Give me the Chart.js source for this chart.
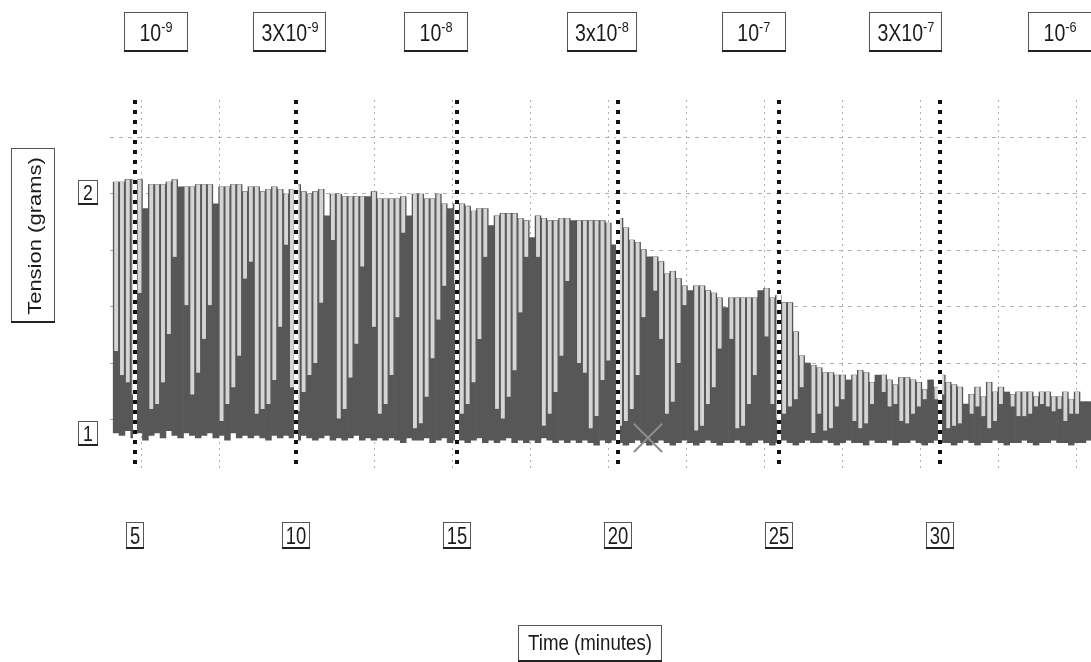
<!DOCTYPE html>
<html>
<head>
<meta charset="utf-8">
<script src="https://cdn.jsdelivr.net/npm/chart.js@4.4.0/dist/chart.umd.min.js"></script>
<style>
  html, body { margin: 0; padding: 0; background: #fff; overflow: hidden; }
  #trace { display: block; }
</style>
</head>
<body>
<canvas id="trace" width="1091" height="662"></canvas>
<script>
// Contraction record: each stroke peaks at `peak`, relaxes to `trough`,
// resting tone (bottom of the dark band) is `rest`. Tension in grams.
const SAMPLE_START = 4.41;  // minutes, first stroke in view
const SAMPLE_STEP = 0.182;  // minutes between strokes

const peak = [
  2.04, 2.04, 2.05, 2.05, 2.05, 1.93, 2.03, 2.03, 2.03, 2.04,
  2.05, 2.02, 2.02, 2.02, 2.03, 2.03, 2.03, 1.95, 2.02, 2.02,
  2.03, 2.03, 2.00, 2.02, 2.02, 2.00, 2.01, 2.02, 2.01, 1.99,
  2.01, 2.03, 2.00, 1.99, 2.00, 2.01, 1.90, 1.99, 1.99, 1.98,
  1.98, 1.98, 1.98, 1.98, 2.00, 1.97, 1.97, 1.97, 1.97, 1.98,
  1.90, 1.99, 1.99, 1.97, 1.97, 1.99, 1.95, 1.93, 1.95, 1.95,
  1.94, 1.92, 1.93, 1.93, 1.86, 1.90, 1.91, 1.91, 1.91, 1.89,
  1.88, 1.81, 1.90, 1.89, 1.88, 1.88, 1.89, 1.89, 1.88, 1.88,
  1.88, 1.88, 1.88, 1.88, 1.87, 1.78, 1.89, 1.85, 1.80, 1.79,
  1.76, 1.73, 1.73, 1.71, 1.66, 1.67, 1.64, 1.61, 1.59, 1.61,
  1.61, 1.59, 1.58, 1.56, 1.52, 1.56, 1.56, 1.56, 1.56, 1.56,
  1.59, 1.60, 1.56, 1.57, 1.54, 1.54, 1.42, 1.32, 1.29, 1.28,
  1.27, 1.25, 1.25, 1.24, 1.24, 1.22, 1.24, 1.26, 1.25, 1.21,
  1.24, 1.24, 1.22, 1.20, 1.23, 1.23, 1.22, 1.21, 1.18, 1.22,
  1.19, 1.24, 1.21, 1.20, 1.19, 1.12, 1.16, 1.19, 1.15, 1.21,
  1.17, 1.19, 1.17, 1.16, 1.17, 1.17, 1.17, 1.15, 1.17, 1.17,
  1.15, 1.15, 1.17, 1.14, 1.17, 1.13, 1.13
];

const trough = [
  1.34, 1.24, 1.21, 1.16, 1.58, 1.93, 1.10, 1.12, 1.21, 1.41,
  1.73, 2.02, 1.53, 1.16, 1.25, 1.39, 1.53, 1.95, 1.05, 1.12,
  1.19, 1.32, 1.64, 1.71, 1.08, 1.10, 1.12, 1.22, 1.44, 1.78,
  1.19, 1.09, 1.17, 1.24, 1.29, 1.54, 1.90, 1.80, 1.06, 1.10,
  1.23, 1.37, 1.69, 1.98, 1.44, 1.08, 1.12, 1.24, 1.48, 1.83,
  1.90, 1.02, 1.04, 1.15, 1.31, 1.47, 1.61, 1.93, 1.62, 1.08,
  1.12, 1.21, 1.39, 1.73, 1.86, 1.10, 1.06, 1.15, 1.26, 1.50,
  1.73, 1.81, 1.73, 1.03, 1.08, 1.17, 1.32, 1.63, 1.88, 1.29,
  1.25, 1.02, 1.07, 1.22, 1.30, 1.78, 1.03, 1.05, 1.10, 1.24,
  1.48, 1.73, 1.59, 1.39, 1.08, 1.13, 1.29, 1.53, 1.59, 1.01,
  1.03, 1.12, 1.19, 1.35, 1.52, 1.39, 1.02, 1.03, 1.12, 1.24,
  1.59, 1.40, 1.12, 1.06, 1.08, 1.11, 1.14, 1.19, 1.29, 1.00,
  1.08, 1.01, 1.02, 1.11, 1.14, 1.22, 1.05, 1.02, 1.04, 1.12,
  1.24, 1.17, 1.11, 1.12, 1.05, 1.04, 1.08, 1.11, 1.14, 1.22,
  1.14, 1.16, 1.02, 1.03, 1.04, 1.12, 1.08, 1.11, 1.07, 1.02,
  1.05, 1.12, 1.17, 1.11, 1.07, 1.07, 1.08, 1.11, 1.12, 1.11,
  1.09, 1.10, 1.05, 1.08, 1.08, 1.13, 1.13
];

const rest = [
  1.00, 0.99, 1.01, 0.98, 1.00, 0.97, 0.99, 1.00, 0.98, 1.01,
  0.99, 0.98, 1.00, 0.99, 0.98, 0.99, 1.00, 0.98, 0.99, 0.97,
  1.00, 0.98, 0.99, 0.98, 0.99, 0.98, 0.97, 0.99, 0.98, 0.99,
  0.98, 0.97, 0.99, 0.98, 0.97, 0.98, 0.99, 0.97, 0.98, 0.97,
  0.98, 0.99, 0.97, 0.98, 0.97, 0.98, 0.97, 0.98, 0.97, 0.96,
  0.98, 0.97, 0.97, 0.98, 0.96, 0.97, 0.98, 0.96, 0.97, 0.97,
  0.96, 0.97, 0.98, 0.96, 0.97, 0.96, 0.97, 0.98, 0.96, 0.97,
  0.96, 0.97, 0.96, 0.98, 0.97, 0.96, 0.97, 0.96, 0.97, 0.96,
  0.97, 0.96, 0.95, 0.97, 0.96, 0.97, 0.96, 0.95, 0.96, 0.97,
  0.96, 0.95, 0.96, 0.97, 0.96, 0.95, 0.96, 0.97, 0.96, 0.95,
  0.96, 0.97, 0.96, 0.95, 0.96, 0.96, 0.97, 0.96, 0.95, 0.96,
  0.97, 0.96, 0.95, 0.96, 0.97, 0.96, 0.95, 0.96, 0.97, 0.96,
  0.96, 0.97, 0.96, 0.95, 0.96, 0.97, 0.96, 0.96, 0.95, 0.97,
  0.96, 0.96, 0.97, 0.95, 0.96, 0.96, 0.97, 0.96, 0.95, 0.96,
  0.97, 0.96, 0.96, 0.95, 0.96, 0.97, 0.96, 0.95, 0.96, 0.96,
  0.97, 0.96, 0.95, 0.96, 0.96, 0.97, 0.96, 0.95, 0.96, 0.96,
  0.97, 0.96, 0.96, 0.95, 0.96, 0.96, 0.97
];

const timeTicks = [5, 10, 15, 20, 25, 30];
const tensionTicks = [1, 2];
const additionTimes = [5, 10, 15, 20, 25, 30];
const doseTimes = [5.65, 9.81, 14.35, 19.5, 24.22, 28.94, 33.73];
const doseBase = ['10', '3X10', '10', '3x10', '10', '3X10', '10'];
const doseExp = ['-9', '-9', '-8', '-8', '-7', '-7', '-6'];
const markTime = [20.93];
const markTension = [0.98];

const times = peak.map((_, i) => SAMPLE_START + i * SAMPLE_STEP);

const FONT = "'Liberation Sans', Arial, sans-serif";

function labelBox(ctx, l, t, w, h) {
  ctx.fillStyle = '#fff';
  ctx.fillRect(l, t, w, h);
  ctx.strokeStyle = '#555';
  ctx.lineWidth = 1;
  ctx.strokeRect(l + 0.5, t + 0.5, w - 1, h - 1);
  ctx.fillStyle = '#222';
  ctx.fillRect(l, t + h - 2, w, 2);
}

function textWidth(ctx, txt, size, sx) {
  ctx.font = size + 'px ' + FONT;
  return ctx.measureText(txt).width * sx;
}

function narrowText(ctx, txt, x, y, size, sx) {
  ctx.save();
  ctx.translate(x, y);
  ctx.scale(sx, 1);
  ctx.font = size + 'px ' + FONT;
  ctx.fillStyle = '#1a1a1a';
  ctx.textAlign = 'left';
  ctx.textBaseline = 'alphabetic';
  ctx.fillText(txt, 0, 0);
  ctx.restore();
}

const tracePlugin = {
  id: 'tracePlugin',
  afterDatasetsDraw(chart) {
    const { ctx, chartArea: area, scales: { x } } = chart;
    additionTimes.forEach(t => {
      const px = Math.round(x.getPixelForValue(t));
      ctx.save();
      ctx.lineWidth = 4;
      ctx.strokeStyle = '#fff';
      ctx.beginPath();
      ctx.moveTo(px, area.top);
      ctx.lineTo(px, area.bottom);
      ctx.stroke();
      ctx.strokeStyle = '#111';
      ctx.setLineDash([4, 6]);
      ctx.beginPath();
      ctx.moveTo(px, area.top);
      ctx.lineTo(px, area.bottom);
      ctx.stroke();
      ctx.restore();
    });
  },
  afterDraw(chart) {
    const { ctx, scales: { x, y } } = chart;

    // concentration added
    doseTimes.forEach((t, i) => {
      const wb = textWidth(ctx, doseBase[i], 23, 0.85);
      const we = textWidth(ctx, doseExp[i], 15, 0.85);
      const w = Math.round(Math.max(64, wb + we + 16));
      const cx = x.getPixelForValue(t);
      const l = Math.round(cx - w / 2);
      labelBox(ctx, l, 12, w, 40);
      const tx = cx - (wb + we) / 2;
      narrowText(ctx, doseBase[i], tx, 41, 23, 0.85);
      narrowText(ctx, doseExp[i], tx + wb, 32, 15, 0.85);
    });

    // time ticks
    timeTicks.forEach(t => {
      const label = String(t);
      const tw = textWidth(ctx, label, 23, 0.8);
      const w = Math.round(tw + 8);
      const cx = x.getPixelForValue(t);
      labelBox(ctx, Math.round(cx - w / 2), 522, w, 27);
      narrowText(ctx, label, cx - tw / 2, 544, 23, 0.8);
    });

    // tension ticks
    tensionTicks.forEach(v => {
      const label = String(v);
      const tw = textWidth(ctx, label, 22, 0.8);
      const cy = y.getPixelForValue(v);
      labelBox(ctx, 78, Math.round(cy - 12), 20, 25);
      narrowText(ctx, label, 88 - tw / 2, cy + 8, 22, 0.8);
    });

    // axis titles
    const xt = 'Time (minutes)';
    const xw = textWidth(ctx, xt, 22, 0.85);
    labelBox(ctx, 518, 625, 144, 37);
    narrowText(ctx, xt, 590 - xw / 2, 650, 22, 0.85);

    const yt = 'Tension (grams)';
    ctx.font = '22px ' + FONT;
    const yw = ctx.measureText(yt).width;
    labelBox(ctx, 11, 148, 44, 175);
    ctx.save();
    ctx.translate(41, 236);
    ctx.scale(0.85, 1);
    ctx.rotate(-Math.PI / 2);
    ctx.font = '22px ' + FONT;
    ctx.fillStyle = '#1a1a1a';
    ctx.fillText(yt, -yw / 2, 0);
    ctx.restore();
  }
};

new Chart(document.getElementById('trace'), {
  type: 'bar',
  data: {
    datasets: [
      {
        label: 'Relaxation',
        data: times.map((t, i) => ({ x: t, y: [trough[i], peak[i]] })),
        backgroundColor: '#d5d5d5',
        borderWidth: 0,
        barPercentage: 0.66,
        categoryPercentage: 1,
        grouped: false,
        order: 1
      },
      {
        label: 'Tone',
        data: times.map((t, i) => ({ x: t, y: [rest[i], peak[i]] })),
        backgroundColor: '#575757',
        borderWidth: 0,
        barPercentage: 1,
        categoryPercentage: 1,
        grouped: false,
        order: 2
      },
      {
        type: 'scatter',
        label: 'Mark',
        data: markTime.map((t, i) => ({ x: t, y: markTension[i] })),
        pointStyle: 'crossRot',
        pointRadius: 20,
        borderColor: '#8c8c8c',
        borderWidth: 2,
        order: 0
      }
    ]
  },
  options: {
    responsive: false,
    animation: false,
    layout: { autoPadding: false, padding: { left: 110, right: 0, top: 100, bottom: 194 } },
    plugins: { legend: { display: false }, tooltip: { enabled: false } },
    scales: {
      x: { type: 'linear', display: false, offset: false, min: 4.22, max: 34.69 },
      y: { display: false, min: 0.855, max: 2.38 },
      gx: {
        type: 'linear', position: 'bottom', offset: false, min: -0.9, max: 11.69,
        ticks: { display: false, stepSize: 1, includeBounds: false },
        grid: { color: '#b0b0b0', drawTicks: false, lineWidth: 1 },
        border: { display: false, dash: [2, 4] }
      },
      gy: {
        type: 'linear', position: 'left', min: -0.85, max: 5.663,
        ticks: { display: false, stepSize: 1, includeBounds: false },
        grid: { color: '#b0b0b0', drawTicks: false, lineWidth: 1 },
        border: { display: false, dash: [4, 5] }
      }
    }
  },
  plugins: [tracePlugin]
});
</script>
</body>
</html>
